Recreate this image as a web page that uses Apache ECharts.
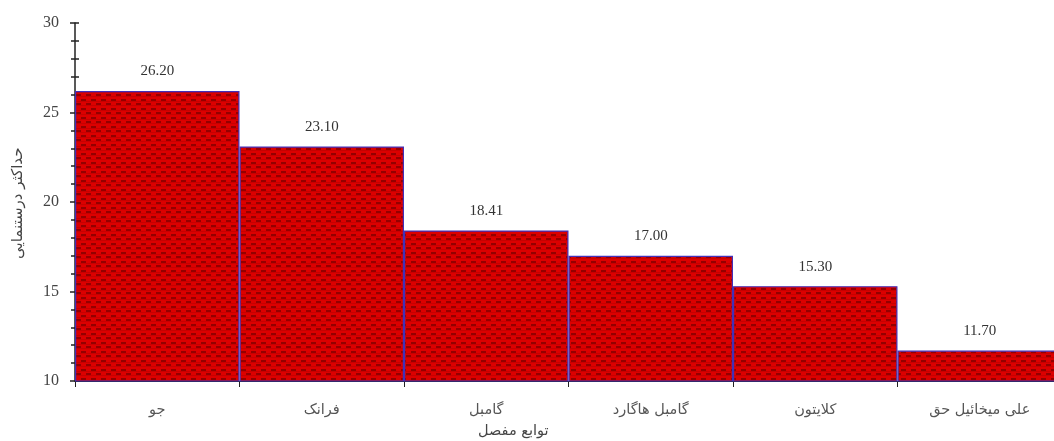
<!DOCTYPE html>
<html>
<head>
<meta charset="utf-8">
<script src="https://cdn.jsdelivr.net/npm/echarts@6/dist/echarts.min.js"></script>
<style>
  html, body { margin: 0; padding: 0; background: #ffffff; overflow: hidden; }
  #chart { width: 1062px; height: 441px; }
</style>
</head>
<body>
<div id="chart"></div>
<script>
// Copula families and their maximum likelihood values
const categories = ['جو', 'فرانک', 'گامبل', 'گامبل هاگارد', 'کلایتون', 'علی میخائیل حق'];
const values = [26.20, 23.10, 18.41, 17.00, 15.30, 11.70];
const yTicks = [10, 15, 20, 25, 30];
const xTitle = 'توابع مفصل';
const yTitle = 'حداکثر درستنمایی';

// Textured dark-red fill for the bars
function makePattern() {
  const c = document.createElement('canvas');
  c.width = 10; c.height = 9;
  const g = c.getContext('2d');
  g.fillStyle = '#dc0000';
  g.fillRect(0, 0, 10, 9);
  g.fillStyle = 'rgba(90,0,0,0.55)';
  g.fillRect(1, 0, 5, 2);
  g.fillRect(6, 4, 4, 2);
  g.fillRect(0, 4, 1, 2);
  g.fillStyle = 'rgba(120,0,0,0.2)';
  g.fillRect(0, 2, 10, 1);
  g.fillRect(0, 6, 10, 1);
  return c;
}

const chart = echarts.init(document.getElementById('chart'), null, { renderer: 'canvas' });

const gridBox = { left: 75, top: 23, right: 0, bottom: 60 };
const serif = 'Liberation Serif, Times New Roman, serif';
const sans = 'DejaVu Sans, Noto Sans, sans-serif';

chart.setOption({
  animation: false,
  backgroundColor: '#ffffff',
  grid: [
    Object.assign({ containLabel: false }, gridBox),
    Object.assign({ containLabel: false }, gridBox)
  ],
  xAxis: [
    {
      type: 'category',
      gridIndex: 0,
      data: categories,
      axisLine: { lineStyle: { color: '#222', width: 1.2 } },
      axisTick: { show: true, alignWithLabel: false, length: 6, lineStyle: { color: '#222' } },
      axisLabel: { color: '#555', fontFamily: sans, fontSize: 14.5, margin: 22 },
      splitLine: { show: false }
    },
    {
      type: 'category',
      gridIndex: 1,
      data: categories,
      show: false
    }
  ],
  yAxis: [
    {
      type: 'value',
      gridIndex: 0,
      min: 10,
      max: 30,
      interval: 5,
      axisLine: { show: true, lineStyle: { color: '#222', width: 1.5 } },
      axisTick: { show: true, length: 5, lineStyle: { color: '#222', width: 1.5 } },
      minorTick: { show: true, splitNumber: 5, length: 4, lineStyle: { color: '#222', width: 1.5 } },
      axisLabel: { color: '#444', fontFamily: serif, fontSize: 16, margin: 16 },
      splitLine: { show: false }
    },
    {
      type: 'value',
      gridIndex: 1,
      min: 10,
      max: 30,
      interval: 5,
      axisLine: { show: false },
      axisTick: { show: true, inside: true, length: 4, lineStyle: { color: '#222', width: 1.5 } },
      minorTick: { show: true, splitNumber: 5, length: 4, lineStyle: { color: '#222', width: 1.5 } },
      axisLabel: { show: false },
      splitLine: { show: false }
    }
  ],
  series: [
    {
      type: 'bar',
      xAxisIndex: 0,
      yAxisIndex: 0,
      data: values,
      barCategoryGap: '0%',
      barGap: '0%',
      itemStyle: {
        color: { image: makePattern(), repeat: 'repeat' },
        borderColor: '#4330b8',
        borderWidth: 1.2
      },
      label: {
        show: true,
        position: 'top',
        distance: 12,
        color: '#333',
        fontFamily: serif,
        fontSize: 15,
        formatter: p => p.value.toFixed(2)
      },
      z: 1
    }
  ],
  graphic: [
    {
      type: 'text',
      left: 478,
      top: 424,
      style: { text: xTitle, fill: '#444', font: '14.5px ' + sans }
    },
    {
      type: 'text',
      x: 11,
      y: 259,
      rotation: Math.PI / 2,
      style: { text: yTitle, fill: '#444', font: '15px ' + sans }
    }
  ]
});
</script>
</body>
</html>
